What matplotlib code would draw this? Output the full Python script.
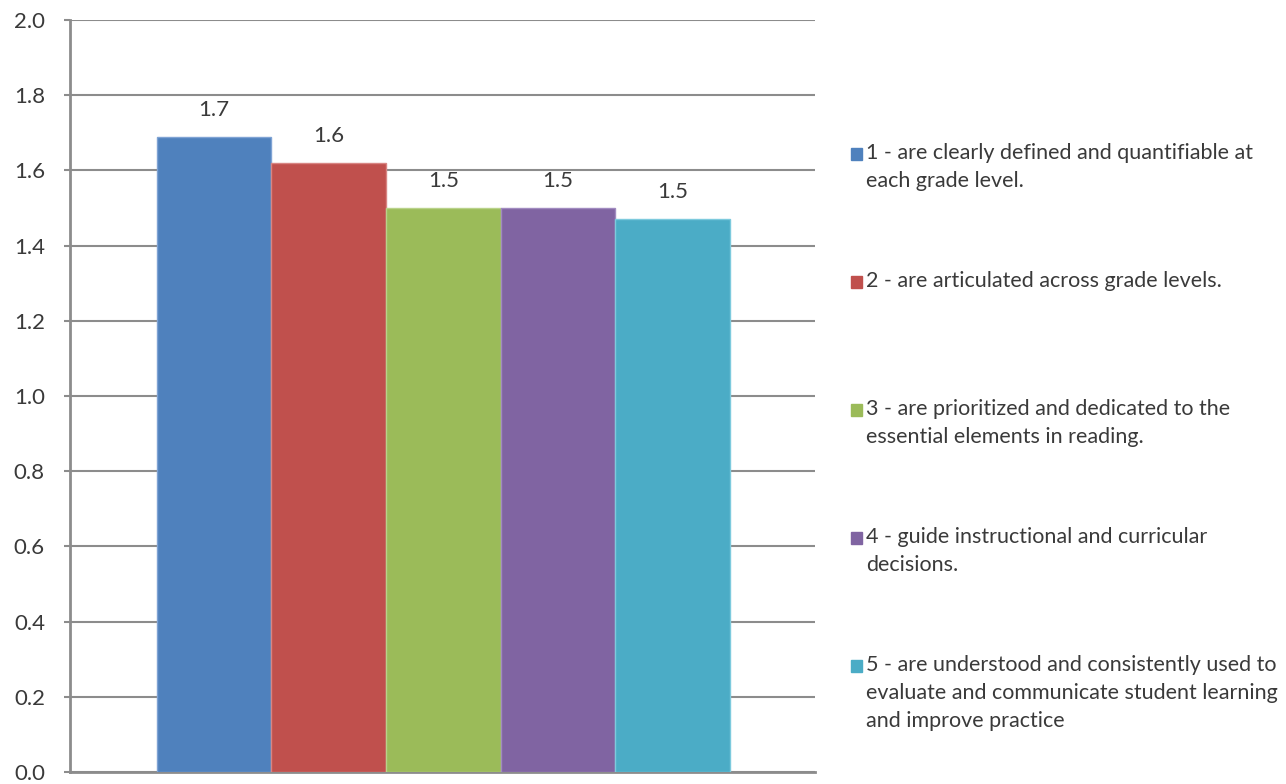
import matplotlib
matplotlib.use('Agg')
import matplotlib.pyplot as plt
from matplotlib.patches import Rectangle

plt.rcParams['font.family'] = ['Lato', 'DejaVu Sans']

# mean ratings for each curriculum statement
items = ['1', '2', '3', '4', '5']
scores = [1.69, 1.62, 1.50, 1.50, 1.47]
legend_labels = [
    '1 - are clearly defined and quantifiable at\neach grade level.',
    '2 - are articulated across grade levels.',
    '3 - are prioritized and dedicated to the\nessential elements in reading.',
    '4 - guide instructional and curricular\ndecisions.',
    '5 - are understood and consistently used to\nevaluate and communicate student learning\nand improve practice',
]
colors = ['#4F81BD', '#C0504D', '#9BBB59', '#8064A2', '#4BACC6']
edge_colors = ['#7FA3D4', '#D88583', '#B9D28A', '#A18BC0', '#7DCADD']

W, H = 1286, 784
fig = plt.figure(figsize=(W / 100, H / 100), dpi=100)
ax = fig.add_axes([70 / W, 12 / H, 745 / W, 752 / H])

grid_col = '#8C8C8C'
text_col = '#3A3A3A'

x = range(len(items))
bars = ax.bar(x, scores, width=1.0, color=colors, edgecolor=edge_colors,
              linewidth=1.0, zorder=3)

for rect, val in zip(bars, scores):
    ax.text(rect.get_x() + rect.get_width() / 2, val + 0.045, f'{val:.1f}',
            ha='center', va='bottom', fontsize=16, color=text_col)

ax.set_xlim(-1.257, 5.24)
ax.set_ylim(0, 2.0)
ax.set_yticks([i * 0.2 for i in range(11)])
ax.set_yticklabels([f'{i * 0.2:.1f}' for i in range(11)])
ax.set_xticks([])
ax.yaxis.grid(True, color=grid_col, linewidth=1.5, zorder=0)
ax.tick_params(axis='y', length=4, width=1.5, color=grid_col, pad=14,
               labelsize=16, labelcolor=text_col)

for side in ['top', 'right']:
    ax.spines[side].set_visible(False)
for side in ['left', 'bottom']:
    ax.spines[side].set_color(grid_col)
    ax.spines[side].set_linewidth(2)

# legend drawn by hand so the entries sit at even spacing
for i, (lab, col) in enumerate(zip(legend_labels, colors)):
    y_px = 154 + 128 * i
    fig.patches.append(Rectangle((851 / W, 1 - (y_px + 6) / H), 11 / W, 12 / H,
                                 transform=fig.transFigure, color=col))
    fig.text(866 / W, 1 - (y_px - 11) / H, lab, ha='left', va='top',
             fontsize=15.5, color=text_col, linespacing=1.5)

fig.savefig('out.png', dpi=100)
